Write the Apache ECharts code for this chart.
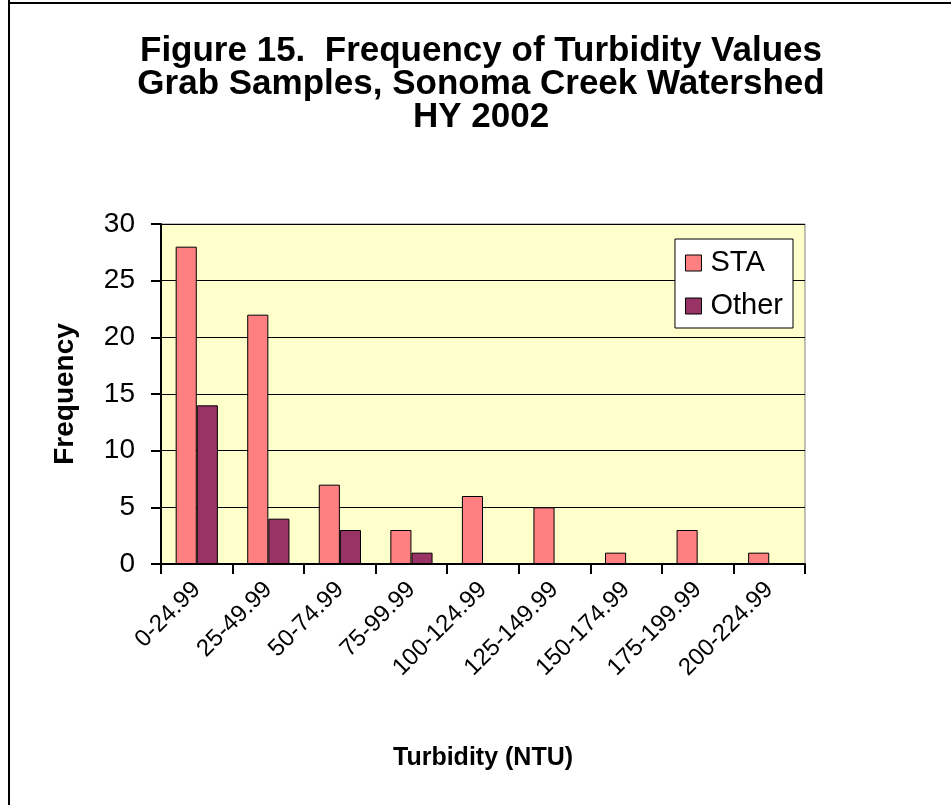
<!DOCTYPE html>
<html>
<head>
<meta charset="utf-8">
<script src="https://cdn.jsdelivr.net/npm/echarts@6/dist/echarts.min.js"></script>
<style>
  html, body { margin: 0; padding: 0; background: #fff; }
  #chart { width: 951px; height: 805px; }
</style>
</head>
<body>
<div id="chart"></div>
<script>
const categories = ['0-24.99', '25-49.99', '50-74.99', '75-99.99', '100-124.99',
  '125-149.99', '150-174.99', '175-199.99', '200-224.99'];
const staValues = [28, 22, 7, 3, 6, 5, 1, 3, 1];
const otherValues = [14, 4, 3, 1, 0, 0, 0, 0, 0];
const yTicks = { min: 0, max: 30, interval: 5 };

const chart = echarts.init(document.getElementById('chart'), null, { renderer: 'canvas' });

const font = 'Arial, "Liberation Sans", sans-serif';

const option = {
  backgroundColor: '#fff',
  animation: false,
  title: {
    text: 'Figure 15.  Frequency of Turbidity Values\nGrab Samples, Sonoma Creek Watershed\nHY 2002',
    left: 476,
    top: 30,
    textAlign: 'center',
    textStyle: {
      fontFamily: font,
      fontSize: 35,
      fontWeight: 'bold',
      color: '#000',
      lineHeight: 33
    }
  },
  graphic: [
    { type: 'line', shape: { x1: 9, y1: 0, x2: 9, y2: 805 }, style: { stroke: '#000', lineWidth: 2 } },
    { type: 'line', shape: { x1: 8, y1: 3, x2: 951, y2: 3 }, style: { stroke: '#000', lineWidth: 2 } }
  ],
  legend: {
    orient: 'vertical',
    right: 158,
    top: 239,
    padding: [9, 10, 7, 10],
    itemGap: 13,
    itemWidth: 16,
    itemHeight: 16,
    icon: 'rect',
    backgroundColor: '#fff',
    borderColor: '#000',
    borderWidth: 1,
    textStyle: { fontFamily: font, fontSize: 29, lineHeight: 30, color: '#000', padding: [0, 0, 0, 4] },
    itemStyle: { borderColor: '#000', borderWidth: 1 },
    data: ['STA', 'Other']
  },
  grid: {
    left: 161,
    right: 146,
    top: 224,
    bottom: 241,
    show: true,
    backgroundColor: '#FFFFCC',
    borderColor: '#808080',
    borderWidth: 1
  },
  xAxis: {
    type: 'category',
    data: categories,
    name: 'Turbidity (NTU)',
    nameLocation: 'middle',
    nameGap: 182,
    nameTextStyle: { fontFamily: font, fontSize: 25, fontWeight: 'bold', color: '#000' },
    axisLine: { lineStyle: { color: '#000', width: 2 } },
    axisTick: { show: true, length: 10, lineStyle: { color: '#000', width: 2 } },
    axisLabel: {
      rotate: 45,
      margin: 22,
      interval: 0,
      fontFamily: font,
      fontSize: 24,
      color: '#000'
    }
  },
  yAxis: {
    type: 'value',
    min: yTicks.min,
    max: yTicks.max,
    interval: yTicks.interval,
    name: 'Frequency',
    nameLocation: 'middle',
    nameGap: 82,
    nameTextStyle: { fontFamily: font, fontSize: 28, fontWeight: 'bold', color: '#000' },
    axisLine: { show: true, lineStyle: { color: '#000', width: 2 } },
    axisTick: { show: true, length: 10, lineStyle: { color: '#000', width: 2 } },
    axisLabel: { margin: 26, fontFamily: font, fontSize: 28, color: '#000' },
    splitLine: { lineStyle: { color: '#000', width: 1 } }
  },
  series: [
    {
      name: 'STA',
      type: 'bar',
      data: staValues,
      barGap: '0%',
      barCategoryGap: '41%',
      itemStyle: { color: '#FF8080', borderColor: '#000', borderWidth: 1 }
    },
    {
      name: 'Other',
      type: 'bar',
      data: otherValues,
      itemStyle: { color: '#993366', borderColor: '#000', borderWidth: 1 }
    }
  ]
};

chart.setOption(option);
</script>
</body>
</html>
